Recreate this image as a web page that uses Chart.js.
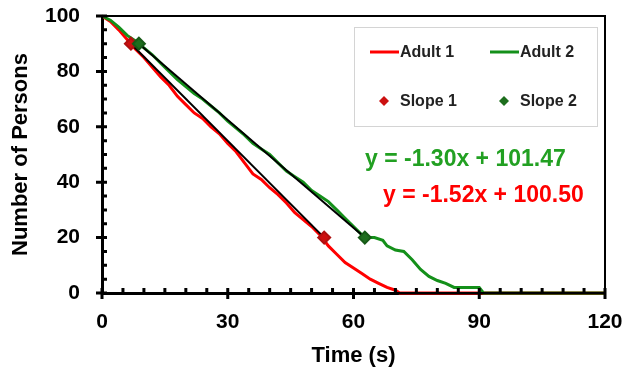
<!DOCTYPE html>
<html lang="en">
<head>
  <meta charset="UTF-8">
  <title>Number of Persons vs Time</title>
  <script src="https://cdn.jsdelivr.net/npm/chart.js"></script>
  <style>
    html, body {
      margin: 0;
      padding: 0;
      background: #fff;
    }
  </style>
</head>
<body>
  <canvas id="myChart" width="642" height="367"></canvas>

  <script>
    // Adult 1 (red) : time (s) / persons remaining
    const timeAdult1 = [0, 2, 4, 6, 8, 10, 12, 14, 16, 18, 20, 22, 24, 26, 28, 30, 32, 34, 36, 38,
      40, 42, 44, 46, 48, 50, 52, 54, 56, 58, 60, 62, 64, 66, 68, 70, 71, 120];
    const personsAdult1 = [100, 98, 95, 91.5, 88, 85, 81.5, 78, 75, 71, 68, 65, 63, 60, 57.5, 54, 51, 47, 43, 41,
      38, 35.5, 32.5, 29, 26.5, 24, 21, 17, 14, 11, 9, 7, 5, 3.5, 2, 1, 0, 0];

    // Adult 2 (green)
    const timeAdult2 = [0, 2, 4, 6, 8, 10, 12, 14, 16, 18, 20, 22, 24, 26, 28, 30, 32, 34, 36, 38,
      40, 42, 44, 46, 48, 50, 52, 54, 56, 58, 60, 62, 63, 65, 67, 68, 70, 72, 74, 76, 78, 80, 82, 84, 90, 91, 120];
    const personsAdult2 = [100, 98.5, 96, 93, 91, 88.5, 86, 83, 80, 77, 74.5, 72, 70, 67.5, 65, 62, 59.5, 57, 54, 52,
      50, 47, 44, 42, 40, 37, 35, 33, 30, 27, 24, 21, 20, 20, 19, 17, 15.5, 15, 12, 8.5, 6, 4.5, 3.5, 2, 2, 0, 0];

    // slope points (start / end of the fitted segment)
    const timeSlope1 = [6.9, 53];
    const personsSlope1 = [90, 20];
    const timeSlope2 = [8.8, 62.7];
    const personsSlope2 = [90, 20];

    // fitted equations
    const slope1 = -1.52, intercept1 = 100.50;
    const slope2 = -1.30, intercept2 = 101.47;

    const xTicks = [0, 30, 60, 90, 120];
    const yTicks = [0, 20, 40, 60, 80, 100];

    const RED = '#ff0000';
    const GREEN = '#14901a';
    const FONT = "'Liberation Sans', Arial, sans-serif";

    const toPoints = (xs, ys) => xs.map((x, i) => ({ x: x, y: ys[i] }));

    // minor/major tick marks crossing the axes + frame
    const axisTicks = {
      id: 'axisTicks',
      afterDatasetsDraw(chart) {
        const { ctx, chartArea: a, scales: { x, y } } = chart;
        ctx.save();
        ctx.strokeStyle = '#000';
        ctx.lineWidth = 2;
        ctx.strokeRect(a.left, a.top, a.right - a.left, a.bottom - a.top);
        ctx.lineWidth = 3;
        ctx.beginPath();
        for (let v = 0; v <= 120; v += 5) {
          const px = x.getPixelForValue(v);
          const major = v % 30 === 0;
          ctx.moveTo(px, a.bottom + (major ? 6 : 0));
          ctx.lineTo(px, a.bottom - 5);
        }
        for (let v = 0; v <= 100; v += 5) {
          const py = y.getPixelForValue(v);
          const major = v % 20 === 0;
          ctx.moveTo(a.left - (major ? 6 : 0), py);
          ctx.lineTo(a.left + 5, py);
        }
        ctx.stroke();
        ctx.restore();
      }
    };

    // legend box inside the plot and the two equations
    const innerLegend = {
      id: 'innerLegend',
      afterDraw(chart) {
        const { ctx, chartArea: a } = chart;
        const ds = chart.data.datasets;
        const bx = a.right - 251, by = a.top + 11;
        ctx.save();
        ctx.fillStyle = '#fff';
        ctx.fillRect(bx, by, 243, 99);
        ctx.strokeStyle = '#d4d4d4';
        ctx.lineWidth = 1;
        ctx.strokeRect(bx + 0.5, by + 0.5, 243, 99);

        ctx.font = 'bold 16px ' + FONT;
        ctx.textBaseline = 'middle';
        ctx.textAlign = 'left';
        const cols = [bx + 16, bx + 136];
        const rows = [by + 25, by + 74];
        ds.forEach((d, i) => {
          const cx = cols[i % 2], cy = rows[Math.floor(i / 2)];
          if (d.pointRadius === 0) {
            ctx.strokeStyle = d.borderColor;
            ctx.lineWidth = 3;
            ctx.beginPath();
            ctx.moveTo(cx, cy);
            ctx.lineTo(cx + 29, cy);
            ctx.stroke();
          } else {
            ctx.fillStyle = d.pointBackgroundColor;
            ctx.beginPath();
            ctx.moveTo(cx + 14, cy - 5);
            ctx.lineTo(cx + 19, cy);
            ctx.lineTo(cx + 14, cy + 5);
            ctx.lineTo(cx + 9, cy);
            ctx.closePath();
            ctx.fill();
          }
          ctx.fillStyle = '#222';
          ctx.fillText(d.label, cx + 30, cy + 1);
        });

        const fmt = (m, b) => 'y = ' + m.toFixed(2) + 'x + ' + b.toFixed(2);
        ctx.font = 'bold 23px ' + FONT;
        ctx.fillStyle = '#22a022';
        ctx.fillText(fmt(slope2, intercept2), bx + 11, a.top + 144);
        ctx.fillStyle = RED;
        ctx.fillText(fmt(slope1, intercept1), bx + 29, a.top + 180);
        ctx.restore();
      }
    };

    const ctx = document.getElementById('myChart').getContext('2d');
    let myChart = new Chart(ctx, {
      type: 'scatter',
      data: {
        datasets: [
          {
            label: 'Adult 1',
            data: toPoints(timeAdult1, personsAdult1),
            showLine: true,
            borderColor: RED,
            backgroundColor: RED,
            borderWidth: 3,
            pointRadius: 0,
            clip: false,
            order: 4
          },
          {
            label: 'Adult 2',
            data: toPoints(timeAdult2, personsAdult2),
            showLine: true,
            borderColor: GREEN,
            backgroundColor: GREEN,
            borderWidth: 3,
            pointRadius: 0,
            clip: false,
            order: 3
          },
          {
            label: 'Slope 1',
            data: toPoints(timeSlope1, personsSlope1),
            showLine: true,
            borderColor: '#000',
            borderWidth: 2,
            pointStyle: 'rectRot',
            pointRadius: 6,
            pointBorderWidth: 2,
            pointBackgroundColor: '#cc1010',
            pointBorderColor: '#b01010',
            order: 2
          },
          {
            label: 'Slope 2',
            data: toPoints(timeSlope2, personsSlope2),
            showLine: true,
            borderColor: '#000',
            borderWidth: 2,
            pointStyle: 'rectRot',
            pointRadius: 6,
            pointBorderWidth: 2,
            pointBackgroundColor: '#1d6e1d',
            pointBorderColor: '#175a17',
            order: 1
          }
        ]
      },
      options: {
        responsive: false,
        animation: false,
        devicePixelRatio: 1,
        layout: {
          padding: { top: 16, right: 37, left: 0, bottom: 0 }
        },
        plugins: {
          legend: { display: false },
          tooltip: { enabled: false }
        },
        scales: {
          x: {
            type: 'linear',
            min: 0,
            max: 120,
            afterFit: s => { s.height = 74; s.paddingLeft = 0; s.paddingRight = 0; },
            afterBuildTicks: s => { s.ticks = xTicks.map(v => ({ value: v })); },
            grid: { display: false, drawTicks: false },
            border: { display: true, color: '#000', width: 3 },
            ticks: {
              color: '#000',
              padding: 17,
              font: { family: FONT, size: 21, weight: 'bold' }
            },
            title: {
              display: true,
              text: 'Time (s)',
              color: '#000',
              padding: { top: 0, bottom: -2 },
              font: { family: FONT, size: 22, weight: 'bold' }
            }
          },
          y: {
            type: 'linear',
            min: 0,
            max: 100,
            afterFit: s => { s.width = 102; s.paddingTop = 0; s.paddingBottom = 0; },
            afterBuildTicks: s => { s.ticks = yTicks.map(v => ({ value: v })); },
            grid: { display: false, drawTicks: false },
            border: { display: true, color: '#000', width: 3 },
            ticks: {
              color: '#000',
              padding: 22,
              font: { family: FONT, size: 21, weight: 'bold' }
            },
            title: {
              display: true,
              text: 'Number of Persons',
              color: '#000',
              padding: { top: 8, bottom: 0 },
              font: { family: FONT, size: 22, weight: 'bold' }
            }
          }
        }
      },
      plugins: [axisTicks, innerLegend]
    });
  </script>
</body>
</html>
